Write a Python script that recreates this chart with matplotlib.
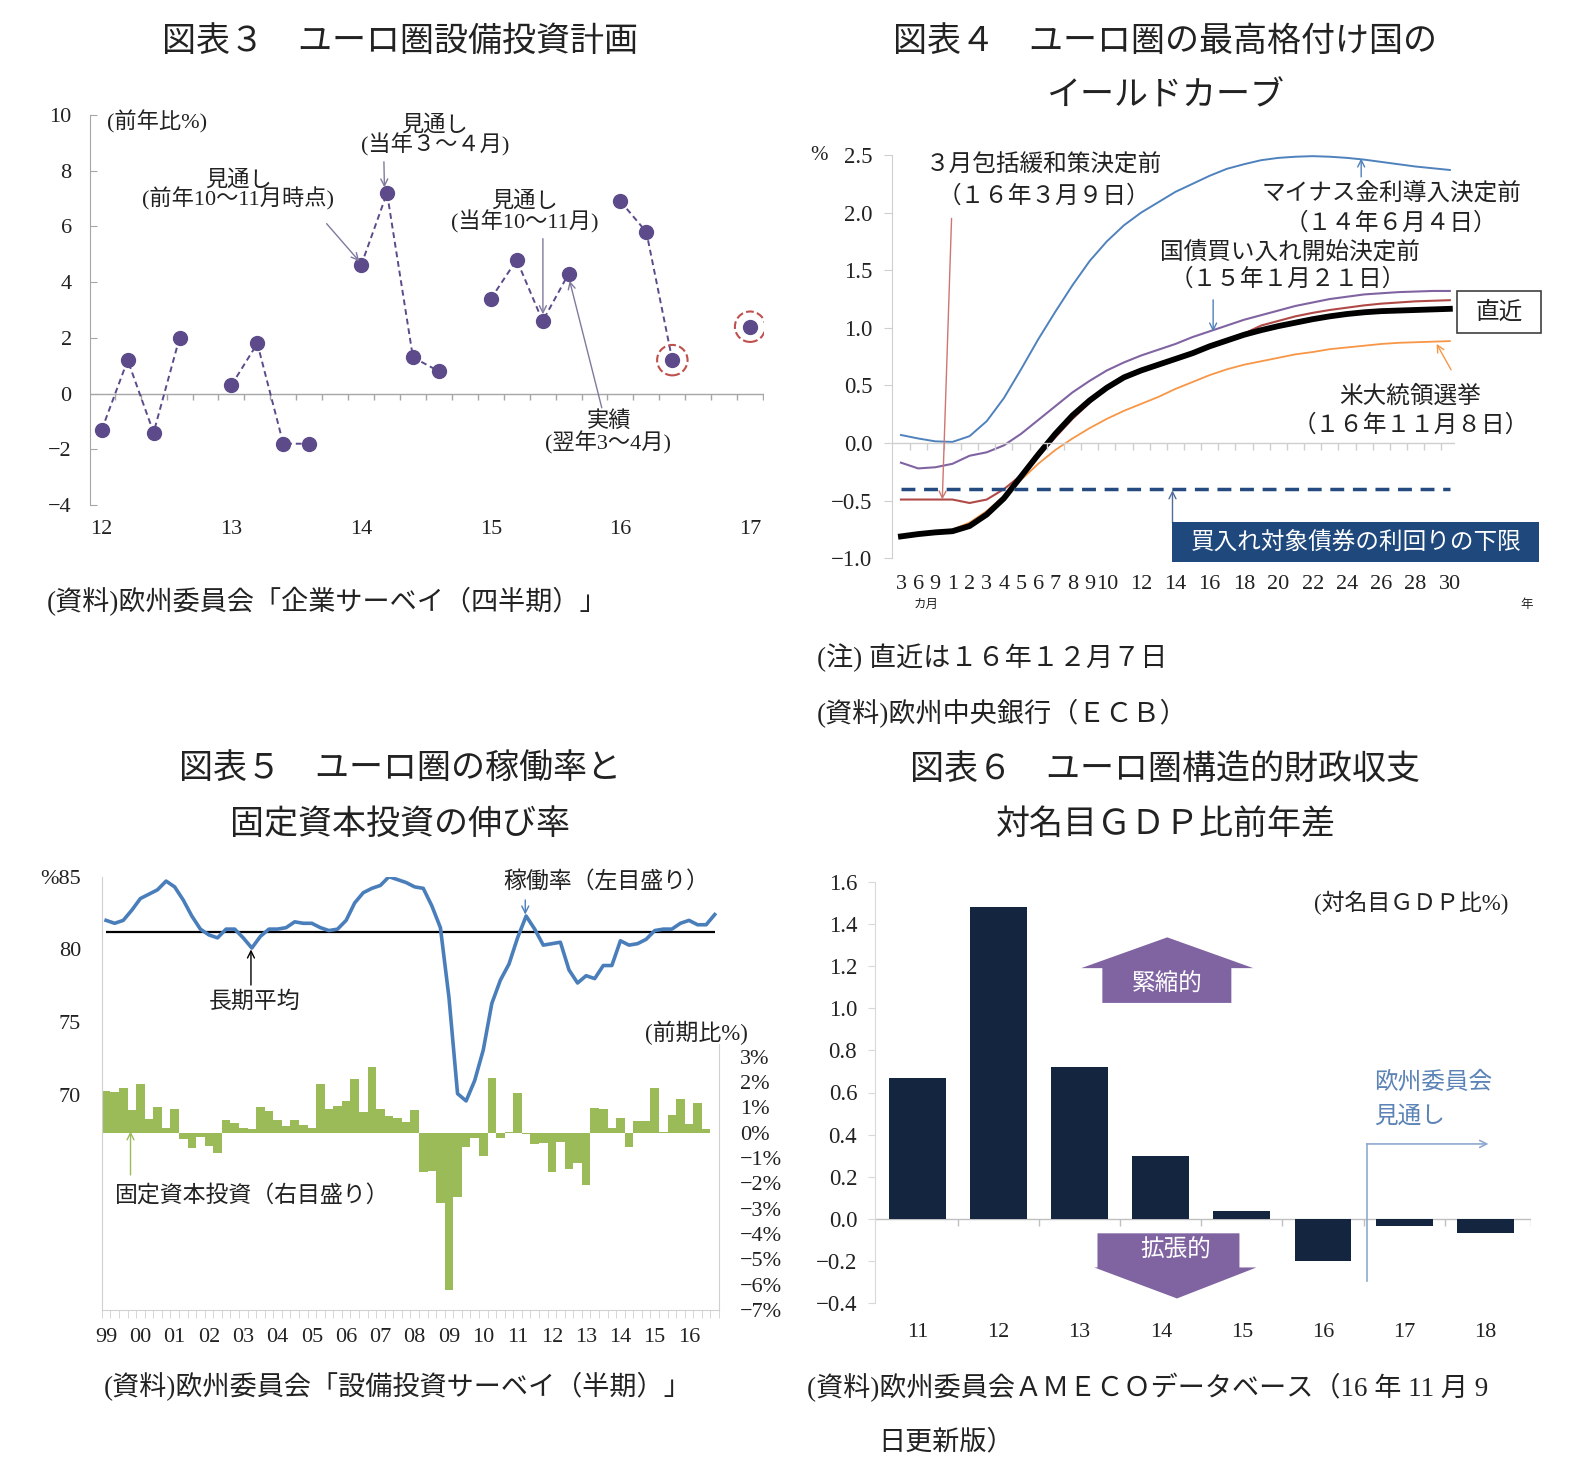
import numpy as np
import matplotlib
matplotlib.use("Agg")
import matplotlib.pyplot as plt
from matplotlib.patches import Polygon, Rectangle

plt.rcParams['font.family'] = ['Liberation Serif', 'Noto Sans CJK JP']

W, H = 1582, 1468
TEXT = '#222222'

# ---- 図表3 : capex plan survey (前年比%) ----
plan_years = ['12', '13', '14', '15', '16', '17']
plan_2012 = [-1.3, 1.2, -1.4, 2.0]
plan_2013 = [0.3, 1.8, -1.8, -1.8]
plan_2014 = [4.6, 7.2, 1.3, 0.8]
plan_2015 = [3.4, 4.8, 2.6, 4.3]
plan_2016 = [6.9, 5.8, 1.2]
plan_2017 = [2.4]
# latest survey points circled in red (group index, position in group)
plan_circled = [(4, 2), (5, 0)]

# ---- 図表4 : yield curves ----
tenor_labels = ['3', '6', '9', '1', '2', '3', '4', '5', '6', '7', '8', '9', '10',
                '', '12', '', '14', '', '16', '', '18', '', '20', '', '22', '',
                '24', '', '26', '', '28', '', '30']
yc_140604 = [0.07, 0.04, 0.015, 0.01, 0.06, 0.19, 0.39, 0.64, 0.90, 1.14,
             1.37, 1.58, 1.75, 1.89, 2.00, 2.09, 2.18, 2.25, 2.32, 2.38,
             2.42, 2.455, 2.475, 2.485, 2.49, 2.485, 2.475, 2.46, 2.44, 2.42,
             2.40, 2.385, 2.37]
yc_150121 = [-0.17, -0.22, -0.21, -0.18, -0.11, -0.08, -0.02, 0.08, 0.20, 0.32,
             0.44, 0.54, 0.63, 0.70, 0.76, 0.81, 0.86, 0.92, 0.97, 1.02,
             1.07, 1.11, 1.15, 1.19, 1.22, 1.25, 1.27, 1.29, 1.30, 1.31,
             1.315, 1.32, 1.32]
yc_160309 = [-0.49, -0.49, -0.49, -0.49, -0.52, -0.49, -0.40, -0.28, -0.12, 0.05,
             0.21, 0.35, 0.47, 0.57, 0.64, 0.69, 0.74, 0.79, 0.845, 0.90,
             0.95, 1.02, 1.06, 1.10, 1.13, 1.155, 1.175, 1.195, 1.21, 1.22,
             1.23, 1.235, 1.24]
yc_161108 = [-0.80, -0.78, -0.765, -0.75, -0.69, -0.59, -0.46, -0.32, -0.18, -0.06,
             0.04, 0.13, 0.21, 0.28, 0.34, 0.40, 0.47, 0.53, 0.59, 0.64,
             0.68, 0.71, 0.74, 0.77, 0.79, 0.815, 0.83, 0.845, 0.86, 0.87,
             0.875, 0.88, 0.885]
yc_latest = [-0.81, -0.79, -0.775, -0.765, -0.72, -0.62, -0.48, -0.29, -0.10, 0.08,
             0.24, 0.37, 0.48, 0.57, 0.63, 0.68, 0.73, 0.78, 0.84, 0.89,
             0.94, 0.98, 1.015, 1.045, 1.075, 1.10, 1.12, 1.135, 1.145, 1.15,
             1.155, 1.16, 1.165]
yield_floor = -0.4

# ---- 図表5 : capacity utilisation (quarterly 99Q1-16Q4) and GFCF growth ----
year_labels = ['99', '00', '01', '02', '03', '04', '05', '06', '07', '08',
               '09', '10', '11', '12', '13', '14', '15', '16']
cu_rate = [82.0, 81.8, 82.0, 82.7, 83.5, 83.8, 84.1, 84.7, 84.3, 83.4,
           82.3, 81.4, 81.0, 80.8, 81.4, 81.4, 80.8, 80.1, 80.9, 81.4,
           81.4, 81.5, 81.9, 81.8, 81.8, 81.5, 81.3, 81.4, 82.0, 83.2,
           83.9, 84.2, 84.4, 85.0, 84.8, 84.6, 84.3, 84.2, 83.0, 81.5,
           76.7, 70.1, 69.6, 71.0, 73.1, 76.3, 77.9, 79.0, 80.8, 82.3,
           81.4, 80.3, 80.4, 80.5, 78.6, 77.7, 78.2, 78.0, 78.9, 78.9,
           80.6, 80.3, 80.4, 80.7, 81.3, 81.4, 81.4, 81.8, 82.0, 81.7,
           81.7, 82.4]
cu_average = 81.2
gfcf_growth = [1.66, 1.59, 1.75, 0.89, 1.91, 0.55, 1.03, 0.17, 0.92, -0.25,
               -0.62, -0.16, -0.51, -0.79, 0.49, 0.39, 0.17, 0.13, 1.01, 0.87,
               0.49, 0.26, 0.50, 0.29, 0.17, 1.93, 0.93, 1.07, 1.25, 2.12,
               0.83, 2.59, 0.93, 0.67, 0.57, 0.41, 0.89, -1.57, -1.50, -2.76,
               -6.21, -2.55, -0.55, -0.22, -0.91, 2.16, -0.20, 0.04, 1.57, -0.07,
               -0.45, -0.42, -1.54, -0.38, -1.43, -1.18, -2.07, 0.99, 0.95, 0.17,
               0.59, -0.57, 0.46, 0.46, 1.75, 0.04, 0.70, 1.32, 0.34, 1.16,
               0.14]

# ---- 図表6 : structural budget balance, change (% of GDP) ----
balance_years = ['11', '12', '13', '14', '15', '16', '17', '18']
balance_change = [0.67, 1.48, 0.72, 0.30, 0.04, -0.20, -0.035, -0.065]


def box(left, top, right, bottom):
    return [left / W, 1 - bottom / H, (right - left) / W, (bottom - top) / H]


def put(fig, x, y, s, size=16, ha='center', color=TEXT, **kw):
    fig.text(x / W, 1 - y / H, s, fontsize=size, ha=ha, va='center',
             color=color, **kw)


def arrow(ax, start, tip, color, lw=1.0):
    ax.annotate('', xy=tip, xytext=start,
                arrowprops=dict(arrowstyle='->,head_length=0.5,head_width=0.25',
                                color=color, lw=lw, shrinkA=0, shrinkB=0))


def minus(s):
    return s.replace('-', '\u2212')


def plot_capex_plan(fig):
    ax = fig.add_axes(box(89.8, 115, 764.4, 505))
    color = '#5C4A8A'
    groups = [plan_2012, plan_2013, plan_2014, plan_2015, plan_2016, plan_2017]
    for i, vals in enumerate(groups):
        xs = 5 * i + np.arange(len(vals))
        ax.plot(xs, vals, color=color, ls=(0, (3, 2)), lw=1.4, marker='o',
                ms=10, mfc=color, mec=color, zorder=3)
    cx = [5 * g + k for g, k in plan_circled]
    cy = [groups[g][k] for g, k in plan_circled]
    ax.scatter(cx, cy, s=480, facecolors='none', edgecolors='#C0504D',
               linestyles='--', linewidths=1.5, zorder=4)

    ax.set_xlim(-0.46, 25.55)
    ax.set_ylim(-4, 10)
    ax.axhline(0, color='#A6A6A6', lw=1)
    ax.vlines(np.arange(0.5, 25.6, 1), -0.24, 0, color='#A6A6A6', lw=1)
    for side in ['top', 'right', 'bottom']:
        ax.spines[side].set_visible(False)
    ax.spines['left'].set_color('#A6A6A6')
    ax.set_yticks(range(-4, 11, 2))
    ax.set_yticklabels([minus(str(v)) for v in range(-4, 11, 2)])
    ax.tick_params(axis='y', direction='in', length=5, color='#A6A6A6',
                   labelsize=16, pad=13, labelcolor=TEXT)
    ax.set_xticks([5 * i for i in range(len(plan_years))])
    ax.set_xticklabels(plan_years)
    ax.tick_params(axis='x', length=0, labelsize=16, pad=11, labelcolor=TEXT)

    acol = '#7F7A9E'
    arrow(ax, (8.67, 6.1), (9.93, 4.75), acol)
    arrow(ax, (10.88, 8.32), (10.9, 7.4), acol)
    arrow(ax, (17.01, 5.56), (17.01, 2.85), acol)
    arrow(ax, (19.28, -0.51), (18.04, 4.05), acol)

    put(fig, 106.6, 121.7, '(前年比%)', ha='left')
    put(fig, 239, 180, '見通し')
    put(fig, 238, 199.3, '(前年10～11月時点)')
    put(fig, 435, 125, '見通し')
    put(fig, 435, 145, '(当年３～４月)')
    put(fig, 525, 201.7, '見通し')
    put(fig, 525, 221.7, '(当年10～11月)')
    put(fig, 609, 421.7, '実績')
    put(fig, 608, 443.3, '(翌年3～4月)')


def plot_yield_curves(fig):
    ax = fig.add_axes(box(891.7, 155, 1455, 558.3))
    x = np.arange(len(tenor_labels))
    ax.plot(x, yc_140604, color='#4F81BD', lw=1.4)
    ax.plot(x, yc_150121, color='#8064A2', lw=1.5)
    ax.plot(x, yc_160309, color='#B04A47', lw=1.5)
    ax.plot(x, yc_161108, color='#F79646', lw=1.3)
    ax.plot(x, yc_latest, color='black', lw=4.2)
    ax.hlines(yield_floor, 0, len(x) - 1, color='#254A80', lw=2.5,
              linestyles=(0, (4, 2.5)))

    ax.set_xlim(-0.54, 32.3)
    ax.set_ylim(-1.0, 2.5)
    ax.axhline(0, color='#CFCFCF', lw=1)
    ax.vlines(np.arange(0.5, 32.4, 1), -0.058, 0, color='#CFCFCF', lw=1)
    for side in ['top', 'right', 'bottom']:
        ax.spines[side].set_visible(False)
    ax.spines['left'].set_color('#CFCFCF')
    yt = np.arange(-1.0, 2.51, 0.5)
    ax.set_yticks(yt)
    ax.set_yticklabels([minus(f'{v:.1f}') for v in yt])
    ax.tick_params(axis='y', direction='out', length=6, color='#CFCFCF',
                   labelsize=16.5, pad=8, labelcolor=TEXT)
    ax.set_xticks(x)
    ax.set_xticklabels(tenor_labels)
    ax.tick_params(axis='x', length=0, labelsize=16, pad=12, labelcolor=TEXT)

    arrow(ax, (2.95, 1.95), (2.41, -0.49), '#CD7672')
    arrow(ax, (26.83, 2.31), (26.83, 2.47), '#4F81BD')
    arrow(ax, (18.2, 1.243), (18.2, 0.968), '#4F81BD')
    arrow(ax, (32.07, 0.636), (31.23, 0.861), '#F79646')
    arrow(ax, (15.83, -0.694), (15.83, -0.41), '#4F6D99')

    put(fig, 818.7, 155, '%', size=15)
    put(fig, 1044, 165, '３月包括緩和策決定前', size=17)
    put(fig, 1044, 196.7, '（１６年３月９日）', size=17)
    put(fig, 1391, 193.3, 'マイナス金利導入決定前', size=17)
    put(fig, 1390.5, 223.3, '（１４年６月４日）', size=17)
    put(fig, 1290, 252.5, '国債買い入れ開始決定前', size=17)
    put(fig, 1288, 280, '（１５年１月２１日）', size=17)
    put(fig, 1409.6, 396.7, '米大統領選挙', size=17)
    put(fig, 1410.6, 425, '（１６年１１月８日）', size=17)
    put(fig, 926, 605, 'カ月', size=9)
    put(fig, 1527, 605, '年', size=9)

    fig.add_artist(Rectangle((1457 / W, 1 - 333 / H), 84 / W, 42 / H,
                             transform=fig.transFigure, facecolor='white',
                             edgecolor='#404040', lw=1.2))
    put(fig, 1499, 312.5, '直近', size=17)
    fig.add_artist(Rectangle((1172 / W, 1 - 562 / H), 367 / W, 39.5 / H,
                             transform=fig.transFigure, facecolor='#1F497D',
                             edgecolor='none'))
    put(fig, 1356, 542.5, '買入れ対象債券の利回りの下限', size=17, color='white')


def plot_capacity(fig):
    ax_bar = fig.add_axes(box(101.8, 876.7, 719, 1310))
    ax_bar.bar(np.arange(len(gfcf_growth)), gfcf_growth, width=1.0,
               color='#9BBB59', zorder=2)
    ax_line = ax_bar.twinx()
    ax_line.yaxis.tick_left()
    ax_bar.yaxis.tick_right()
    q = np.arange(len(cu_rate))
    ax_line.plot(q, cu_rate, color='#4A7EBB', lw=2.6, zorder=3)
    ax_line.hlines(cu_average, 0, len(cu_rate) - 1, color='black', lw=1.6)

    ax_bar.set_xlim(-0.5, 71.5)
    ax_bar.set_ylim(-7, 10.1)
    ax_line.set_ylim(55.24, 85)

    for side in ax_line.spines.values():
        side.set_visible(False)
    ax_bar.spines['top'].set_visible(False)
    for side in ['left', 'right', 'bottom']:
        ax_bar.spines[side].set_color('#D0D0D0')
    ax_bar.spines['right'].set_bounds(-7, 3.5)

    rt = list(range(-7, 4))
    ax_bar.set_yticks(rt)
    ax_bar.set_yticklabels([minus(f'{v}%') for v in rt])
    ax_bar.tick_params(axis='y', length=0, labelsize=16, pad=15, labelcolor=TEXT)
    ax_line.set_yticks([70, 75, 80, 85])
    ax_line.set_yticklabels(['70', '75', '80', '%85'])
    ax_line.tick_params(axis='y', length=0, labelsize=16, pad=15, labelcolor=TEXT)

    ax_bar.set_xticks(np.arange(0, 4 * len(year_labels), 4))
    ax_bar.set_xticklabels(year_labels)
    ax_bar.set_xticks(np.arange(-0.5, 72, 1), minor=True)
    ax_bar.tick_params(axis='x', which='major', length=0, labelsize=16, pad=13,
                       labelcolor=TEXT)
    ax_bar.tick_params(axis='x', which='minor', length=6, color='#D0D0D0')

    arrow(ax_line, (48.9, 83.4), (48.9, 82.4), '#4A7EBB')
    arrow(ax_line, (16.9, 77.56), (16.9, 80.0), 'black')
    arrow(ax_bar, (2.85, -1.67), (2.85, 0.05), '#9BBB59')

    put(fig, 503.7, 881.7, '稼働率（左目盛り）', size=16.5, ha='left')
    put(fig, 255, 1001.7, '長期平均', size=16.5)
    put(fig, 696, 1033.3, '(前期比%)', size=16.5)
    put(fig, 115.2, 1196.7, '固定資本投資（右目盛り）', size=16.5, ha='left')


def plot_budget_balance(fig):
    ax = fig.add_axes(box(875.2, 881.7, 1530.7, 1303.3))
    x = np.arange(len(balance_years))
    ax.bar(x, balance_change, width=0.70, color='#14263F', zorder=2)
    ax.set_xlim(-0.52, 7.56)
    ax.set_ylim(-0.4, 1.6)
    ax.axhline(0, color='#BFBFBF', lw=1, zorder=1)
    ax.vlines(list(np.arange(0.5, 7.0, 1)) + [7.56], -0.032, 0,
              color='#BFBFBF', lw=1)
    for side in ['top', 'right', 'bottom']:
        ax.spines[side].set_visible(False)
    ax.spines['left'].set_color('#D9D9D9')
    yt = np.arange(-0.4, 1.61, 0.2)
    ax.set_yticks(yt)
    ax.set_yticklabels([minus(f'{v:.1f}') if abs(v) > 1e-9 else '0.0' for v in yt])
    ax.tick_params(axis='y', direction='out', length=5, color='#D9D9D9',
                   labelsize=16.5, pad=8, labelcolor=TEXT)
    ax.set_xticks(x)
    ax.set_xticklabels(balance_years)
    ax.tick_params(axis='x', length=0, labelsize=16, pad=14, labelcolor=TEXT)

    purple = '#8064A2'
    up = Polygon([(2.28, 1.025), (2.28, 1.19), (2.02, 1.19), (3.08, 1.336),
                  (4.14, 1.19), (3.87, 1.19), (3.87, 1.025)],
                 closed=True, facecolor=purple, edgecolor='none', zorder=3)
    down = Polygon([(2.22, -0.068), (2.22, -0.23), (2.18, -0.23), (3.2, -0.377),
                    (4.18, -0.23), (3.97, -0.23), (3.97, -0.068)],
                   closed=True, facecolor=purple, edgecolor='none', zorder=3)
    ax.add_patch(up)
    ax.add_patch(down)
    ax.text(3.08, 1.11, '緊縮的', color='white', fontsize=17, ha='center',
            va='center', zorder=4)
    ax.text(3.19, -0.15, '拡張的', color='white', fontsize=17, ha='center',
            va='center', zorder=4)

    lcol = '#8EA9D0'
    ax.plot([5.54, 5.54], [-0.293, 0.356], color=lcol, lw=1.2)
    arrow(ax, (5.54, 0.356), (7.04, 0.356), lcol, lw=1.2)
    put(fig, 1373.7, 1083, '欧州委員会', size=17, ha='left', color='#5B83B5')
    put(fig, 1373.7, 1117, '見通し', size=17, ha='left', color='#5B83B5')
    put(fig, 1410.7, 903.3, '(対名目ＧＤＰ比%)', size=16.5)


def add_titles(fig):
    ts = 24.5
    put(fig, 400, 42, '図表３　ユーロ圏設備投資計画', size=ts)
    put(fig, 1165, 42, '図表４　ユーロ圏の最高格付け国の', size=ts)
    put(fig, 1165, 97, 'イールドカーブ', size=ts)
    put(fig, 400, 770, '図表５　ユーロ圏の稼働率と', size=ts)
    put(fig, 400, 825, '固定資本投資の伸び率', size=ts)
    put(fig, 1165, 770, '図表６　ユーロ圏構造的財政収支', size=ts)
    put(fig, 1166, 825, '対名目ＧＤＰ比前年差', size=ts)

    ss = 19.5
    put(fig, 47, 602, '(資料)欧州委員会「企業サーベイ（四半期）」', size=ss, ha='left')
    put(fig, 817, 658, '(注) 直近は１６年１２月７日', size=ss, ha='left')
    put(fig, 817, 714, '(資料)欧州中央銀行（ＥＣＢ）', size=ss, ha='left')
    put(fig, 104, 1387, '(資料)欧州委員会「設備投資サーベイ（半期）」', size=ss, ha='left')
    put(fig, 807, 1387, '(資料)欧州委員会ＡＭＥＣＯデータベース（16 年 11 月 9',
        size=ss, ha='left')
    put(fig, 878, 1443, '日更新版）', size=ss, ha='left')


def main():
    fig = plt.figure(figsize=(W / 100, H / 100), dpi=100)
    fig.patch.set_facecolor('white')
    plot_capex_plan(fig)
    plot_yield_curves(fig)
    plot_capacity(fig)
    plot_budget_balance(fig)
    add_titles(fig)
    fig.savefig('out.png', dpi=100)


if __name__ == '__main__':
    main()
